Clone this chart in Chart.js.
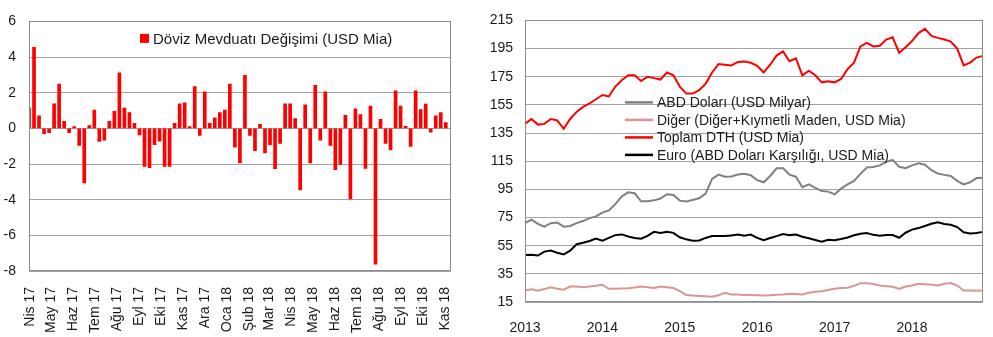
<!DOCTYPE html>
<html>
<head>
<meta charset="utf-8">
<script src="https://cdn.jsdelivr.net/npm/chart.js@4.4.1/dist/chart.umd.min.js"></script>
<style>
  html, body { margin: 0; padding: 0; background: #fff; }
  #wrap { position: relative; width: 993px; height: 337px; }
  #weekly { position: absolute; left: 0; top: 0; }
  #dth { position: absolute; left: 478px; top: 0; }
</style>
</head>
<body>
<div id="wrap">
  <canvas id="weekly" width="470" height="337"></canvas>
  <canvas id="dth" width="515" height="337"></canvas>
</div>
<script>
// haftalik doviz mevduati degisimi (USD Mia), ilk hafta 31.03.2017
const weekStart = new Date(2017, 2, 31)
const weeklyChange = [
  1.15, 4.55, 0.7, -0.3, -0.24, 1.38, 2.48, 0.4, -0.24, 0.1,
  -0.95, -3.06, 0.15, 1.03, -0.73, -0.66, 0.4, 0.95, 3.12, 1.14,
  0.88, 0.28, -0.37, -2.13, -2.2, -0.92, -0.72, -2.13, -2.13, 0.28,
  1.38, 1.43, 0.1, 2.35, -0.4, 2.05, 0.28, 0.59, 0.88, 1.03,
  2.48, -1.06, -1.94, 2.97, -0.4, -1.25, 0.22, -1.38, -0.92, -2.26,
  -0.84, 1.38, 1.38, 0.55, -3.45, 1.32, -1.94, 2.42, -0.66, 2.05,
  -0.95, -2.31, -2.02, 0.73, -3.96, 1.1, 0.77, -2.24, 1.25, -7.61,
  0.51, -0.84, -1.21, 2.11, 1.25, 0.11, -1.01, 2.11, 1.06, 1.36,
  -0.22, 0.7, 0.88, 0.33
]
const monthTicks = ['Nis 17', 'May 17', 'Haz 17', 'Tem 17', 'Ağu 17', 'Eyl 17', 'Eki 17', 'Kas 17', 'Ara 17', 'Oca 18',
  'Şub 18', 'Mar 18', 'Nis 18', 'May 18', 'Haz 18', 'Tem 18', 'Ağu 18', 'Eyl 18', 'Eki 18', 'Kas 18']

// DTH stoklari, aylik, Ocak 2013 - Aralik 2018 ekseni
const dthYears = [2013, 2014, 2015, 2016, 2017, 2018]
const abdDolari = [
  71, 73.5, 70.5, 68.5, 71, 71.5, 68.5, 69, 71, 72.5,
  74.6, 75.8, 78.5, 80, 84.5, 90, 92.9, 92.2, 86.5, 86.5,
  87.2, 88.5, 91.5, 91, 87, 86.4, 87.5, 88.7, 92, 102.5,
  105.5, 104, 104.2, 105.5, 106, 105, 101.5, 100, 104.5, 110,
  110, 105.5, 104, 96.5, 98.5, 96, 93.8, 93.4, 91.5, 95.5,
  98.5, 101, 106, 110.5, 110.9, 112, 114.5, 116, 111, 110,
  112, 113.5, 112.5, 108.6, 106.2, 105.3, 104.5, 101, 98.5, 100,
  103, 103.2
]
const diger = [
  23.2, 24, 23, 24.2, 25.5, 24.4, 23.7, 26, 26, 25.5,
  26, 26.5, 27.2, 24.4, 24.4, 24.6, 24.8, 25.3, 26, 25.5,
  25, 26, 25.5, 25, 22.7, 20, 19.7, 19.3, 19, 18.7,
  19.8, 21.5, 20.4, 20.4, 20, 20, 19.8, 19.7, 19.8, 20.2,
  20.4, 20.8, 20.6, 20.4, 21.5, 22.3, 22.7, 23.5, 24.4, 25,
  25.2, 26.5, 28.3, 28.3, 27.8, 26.7, 26.2, 25.8, 24.2, 26,
  26.7, 27.9, 27.6, 27.2, 26.7, 28, 28.5, 26.7, 23.2, 23.2,
  23, 23.2
]
const toplamDth = [
  141.5, 145, 141, 141.5, 145, 144, 138, 145, 150, 153.6,
  156, 159, 162, 161, 168, 172.5, 176, 176, 172, 175,
  174, 173, 178, 176, 168, 163, 163, 165.5, 170, 178,
  184, 183.5, 183, 185.5, 185.8, 184.9, 182.8, 178, 183.5, 190,
  193, 186, 188, 176, 179.3, 176, 171, 171.8, 171, 173.4,
  180.4, 185, 196.5, 199, 196.5, 197, 201.4, 203, 192, 196,
  200.3, 206, 209, 204, 202.6, 201.4, 200, 195, 183, 185,
  188.6, 189.8
]
const euro = [
  48.4, 48.5, 48, 50.8, 51.5, 50, 48.8, 51.5, 56, 57.1,
  58.3, 60, 58.5, 60.5, 62.5, 63, 61.5, 60.5, 60, 62,
  64.8, 64.1, 64.8, 64.1, 61, 59.5, 58.5, 58.7, 60.5, 61.8,
  61.8, 61.8, 62.3, 62.9, 62, 62.9, 60.5, 58.9, 60.5, 61.8,
  63.2, 62.5, 62.9, 61.3, 60.3, 59, 57.8, 59.2, 58.8, 59.8,
  60.8, 62.4, 63.5, 64, 62.7, 62, 62.5, 62.5, 60.6, 64.2,
  66.4, 67.5, 69, 70.6, 71.6, 70.4, 69.8, 68.2, 64.5, 63.6,
  64, 64.8
]

const FONT = 'Liberation Sans, Arial, sans-serif'
const TXT = '#1a1a1a'
const GRID = '#a3a3a3'
const DAY = 86400000

// gun cinsinden x: haftalar ve ay baslari
const weekDays = weeklyChange.map((v, i) => i * 7)
const monthDays = monthTicks.map((t, k) => Math.round((new Date(2017, 3 + k, 1) - weekStart) / DAY))

const dthMonths = []
dthYears.forEach(y => { for (let m = 1; m <= 12; m++) dthMonths.push(y + '-' + String(m).padStart(2, '0')) })

// cerceve
const frame = {
  id: 'frame',
  afterDraw(chart) {
    const a = chart.chartArea, ctx = chart.ctx
    ctx.save()
    ctx.strokeStyle = '#8c8c8c'
    ctx.lineWidth = 1
    ctx.strokeRect(Math.round(a.left) + 0.5, Math.round(a.top) + 0.5, Math.round(a.right - a.left) - 1, Math.round(a.bottom - a.top) - 1)
    ctx.restore()
  }
}

// grafik icindeki aciklama
const innerLegend = {
  id: 'innerLegend',
  afterDraw(chart, args, o) {
    const a = chart.chartArea, ctx = chart.ctx
    ctx.save()
    ctx.font = o.font
    ctx.textBaseline = 'middle'
    ctx.fillStyle = TXT
    chart.data.datasets.forEach((ds, i) => {
      const x = a.left + o.dx, y = a.top + o.dy + i * o.rowH
      if (o.box) {
        ctx.fillStyle = ds.backgroundColor
        ctx.fillRect(x, y - 4.5, 9, 9)
        ctx.fillStyle = TXT
        ctx.fillText(ds.label, x + 13, y + 1)
      } else {
        ctx.strokeStyle = ds.borderColor
        ctx.lineWidth = 2.5
        ctx.beginPath()
        ctx.moveTo(x, y)
        ctx.lineTo(x + 28, y)
        ctx.stroke()
        ctx.fillStyle = TXT
        ctx.fillText(ds.label, x + 32, y + 1)
      }
    })
    ctx.restore()
  }
}

new Chart(document.getElementById('weekly'), {
  type: 'bar',
  data: {
    datasets: [{
      label: 'Döviz Mevduatı Değişimi (USD Mia)',
      data: weeklyChange.map((v, i) => ({ x: weekDays[i], y: v })),
      backgroundColor: '#ff0000',
      barThickness: 3
    }]
  },
  plugins: [frame, innerLegend],
  options: {
    responsive: false,
    animation: false,
    layout: { padding: { top: 16, right: 9, left: 0, bottom: 0 } },
    plugins: {
      legend: { display: false },
      tooltip: { enabled: false },
      innerLegend: { box: true, dx: 111, dy: 17, rowH: 0, font: '15px ' + FONT }
    },
    scales: {
      x: {
        type: 'linear',
        min: 0,
        max: 588,
        offset: false,
        grid: { display: false },
        border: { display: false },
        afterBuildTicks: s => { s.ticks = monthDays.map(v => ({ value: v })) },
        afterFit: s => { s.height = 66 },
        ticks: {
          autoSkip: false,
          minRotation: 90,
          maxRotation: 90,
          padding: 8,
          color: TXT,
          font: { family: FONT, size: 14 },
          callback: (v, i) => monthTicks[i]
        }
      },
      y: {
        min: -8,
        max: 6,
        grid: { color: GRID, drawTicks: false },
        border: { display: false },
        afterFit: s => { s.width = 29 },
        ticks: { stepSize: 2, padding: 13, color: TXT, font: { family: FONT, size: 14 } }
      }
    }
  }
})

new Chart(document.getElementById('dth'), {
  type: 'line',
  data: {
    labels: dthMonths,
    datasets: [
      { label: 'ABD Doları (USD Milyar)', data: abdDolari, borderColor: '#808080' },
      { label: 'Diğer (Diğer+Kıymetli Maden, USD Mia)', data: diger, borderColor: '#d99694' },
      { label: 'Toplam DTH (USD Mia)', data: toplamDth, borderColor: '#ff0000' },
      { label: 'Euro (ABD Doları Karşılığı, USD Mia)', data: euro, borderColor: '#000000' }
    ]
  },
  plugins: [frame, innerLegend],
  options: {
    responsive: false,
    animation: false,
    elements: { line: { borderWidth: 2, tension: 0 }, point: { radius: 0 } },
    layout: { padding: { top: 16, right: 8, left: 0, bottom: 0 } },
    plugins: {
      legend: { display: false },
      tooltip: { enabled: false },
      innerLegend: { box: false, dx: 100, dy: 82, rowH: 17.5, font: '14px ' + FONT }
    },
    scales: {
      x: {
        offset: false,
        grid: { display: false },
        border: { display: false },
        afterFit: s => { s.height = 35 },
        ticks: {
          autoSkip: false,
          maxRotation: 0,
          padding: 10,
          color: TXT,
          font: { family: FONT, size: 14 },
          callback: (v, i) => dthMonths[i].endsWith('-01') ? dthMonths[i].slice(0, 4) : ''
        }
      },
      y: {
        min: 15,
        max: 215,
        grid: { color: GRID, drawTicks: false },
        border: { display: false },
        afterFit: s => { s.width = 47 },
        ticks: { stepSize: 20, padding: 12, color: TXT, font: { family: FONT, size: 14 } }
      }
    }
  }
})
</script>
</body>
</html>
